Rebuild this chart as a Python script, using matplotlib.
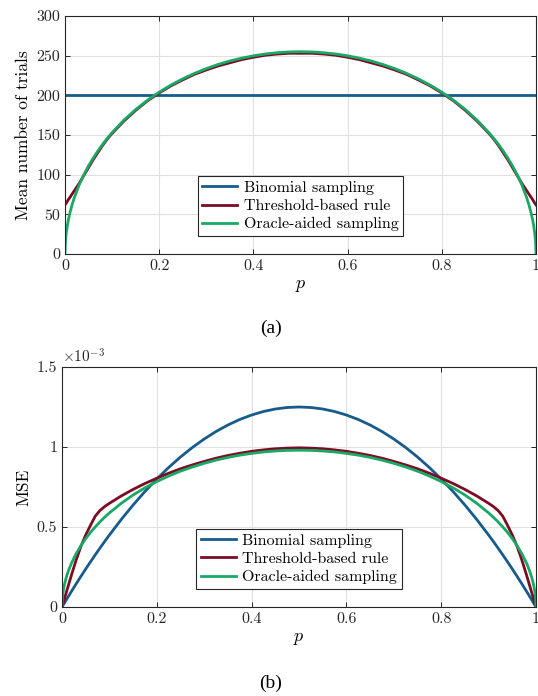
import numpy as np
import matplotlib
matplotlib.use("Agg")
import matplotlib.pyplot as plt
from matplotlib.ticker import FuncFormatter

plt.rcParams['font.family'] = ['cmr10', 'DejaVu Serif']
plt.rcParams['mathtext.fontset'] = 'cm'
plt.rcParams['axes.formatter.use_mathtext'] = True

# p grid (left half, mirrored to p > 0.5 below)
p_half = [0, 0.001, 0.0025, 0.005, 0.0075, 0.01, 0.015, 0.02, 0.03, 0.04, 0.05,
          0.06, 0.07, 0.08, 0.09, 0.1, 0.125, 0.15, 0.175, 0.2, 0.225, 0.25,
          0.275, 0.3, 0.325, 0.35, 0.375, 0.4, 0.425, 0.45, 0.475, 0.5]

# mean number of trials
trials_binomial = [200] * len(p_half)
trials_threshold = [62, 63, 64, 66.5, 69, 71, 75.5, 80, 89, 99, 109,
                    119, 128, 137, 145, 152, 167.5, 181, 193, 203, 212, 219.5,
                    226.5, 232, 237, 241, 245, 248, 250.5, 252, 253, 253]
trials_oracle = [0, 16.1, 25.5, 36, 44, 50.7, 62, 71.4, 87, 99.9, 111.2,
                 121.1, 130.1, 138.4, 146, 153, 168.7, 182.1, 193.8, 204, 213, 220.8,
                 227.7, 233.7, 238.9, 243.3, 246.9, 249.8, 252.1, 253.7, 254.7, 255]

# MSE, in units of 1e-3
mse_binomial = [0, 0.005, 0.0125, 0.0249, 0.0372, 0.0495, 0.0739, 0.098, 0.1455, 0.192, 0.2375,
                0.282, 0.3255, 0.368, 0.4095, 0.45, 0.5469, 0.6375, 0.7219, 0.8, 0.8719, 0.9375,
                0.9969, 1.05, 1.0969, 1.1375, 1.1719, 1.2, 1.2219, 1.2375, 1.2469, 1.25]
mse_threshold = [0, 0.01, 0.025, 0.05, 0.075, 0.1, 0.15, 0.2, 0.295, 0.38, 0.45,
                 0.51, 0.567, 0.603, 0.628, 0.648, 0.694, 0.735, 0.772, 0.805, 0.836, 0.864,
                 0.888, 0.91, 0.93, 0.947, 0.961, 0.973, 0.982, 0.989, 0.993, 0.995]
mse_oracle = [0, 0.062, 0.098, 0.138, 0.169, 0.195, 0.238, 0.274, 0.334, 0.384, 0.427,
              0.466, 0.5, 0.532, 0.561, 0.588, 0.648, 0.7, 0.745, 0.784, 0.8185, 0.849,
              0.875, 0.898, 0.918, 0.935, 0.949, 0.96, 0.969, 0.975, 0.979, 0.98]


def mirror(vals):
    return list(vals) + list(vals[-2::-1])


p = list(p_half) + [1 - v for v in p_half[-2::-1]]

c_blue = '#165b8c'
c_red = '#7c0b24'
c_green = '#1aa865'
labels = ['Binomial sampling', 'Threshold-based rule', 'Oracle-aided sampling']
fmt = FuncFormatter(lambda v, pos: '%g' % round(v, 6))

fig = plt.figure(figsize=(5.38, 6.96), dpi=100)
ax1 = fig.add_axes([65 / 538, 1 - 254 / 696, 471 / 538, 238 / 696])
ax2 = fig.add_axes([62 / 538, 1 - 607 / 696, 474 / 538, 240 / 696])


def style(ax):
    ax.grid(True, color='#e0e0e0', linewidth=0.8)
    ax.set_axisbelow(True)
    ax.tick_params(direction='in', length=3.5, top=True, right=True,
                   labelsize=11.5, colors='#262626', width=0.7)
    for s in ax.spines.values():
        s.set_color('#262626')
        s.set_linewidth(0.8)
    ax.set_xlim(0, 1)
    ax.set_xticks([0, 0.2, 0.4, 0.6, 0.8, 1])
    ax.xaxis.set_major_formatter(fmt)
    ax.yaxis.set_major_formatter(fmt)
    ax.set_xlabel('$p$', fontsize=13, labelpad=4)


ax1.plot(p, mirror(trials_binomial), color=c_blue, lw=2, label=labels[0])
ax1.plot(p, mirror(trials_threshold), color=c_red, lw=2, label=labels[1])
ax1.plot(p, mirror(trials_oracle), color=c_green, lw=2, label=labels[2])
style(ax1)
ax1.set_ylim(0, 300)
ax1.set_yticks(range(0, 301, 50))
ax1.set_ylabel('Mean number of trials', fontsize=12.5)

ax2.plot(p, mirror(mse_binomial), color=c_blue, lw=2, label=labels[0])
ax2.plot(p, mirror(mse_threshold), color=c_red, lw=2, label=labels[1])
ax2.plot(p, mirror(mse_oracle), color=c_green, lw=2, label=labels[2])
style(ax2)
ax2.set_ylim(0, 1.5)
ax2.set_yticks([0, 0.5, 1, 1.5])
ax2.set_ylabel('MSE', fontsize=12.5)
ax2.text(0.0, 1.005, r'$\times10^{-3}$', transform=ax2.transAxes,
         fontsize=11, color='#262626', ha='left', va='bottom')

for ax in (ax1, ax2):
    leg = ax.legend(loc='lower center', bbox_to_anchor=(0.5, 0.075), fontsize=11.5,
                    fancybox=False, framealpha=1, edgecolor='#262626',
                    handlelength=2.2, handletextpad=0.4, borderpad=0.3,
                    labelspacing=0.25, borderaxespad=0)
    leg.get_frame().set_linewidth(0.8)

fig.text(271 / 538, 1 - 328 / 696, '(a)', family='Liberation Serif',
         fontsize=14, ha='center', va='center')
fig.text(271 / 538, 1 - 683 / 696, '(b)', family='Liberation Serif',
         fontsize=14, ha='center', va='center')

fig.savefig('out.png', dpi=100)
